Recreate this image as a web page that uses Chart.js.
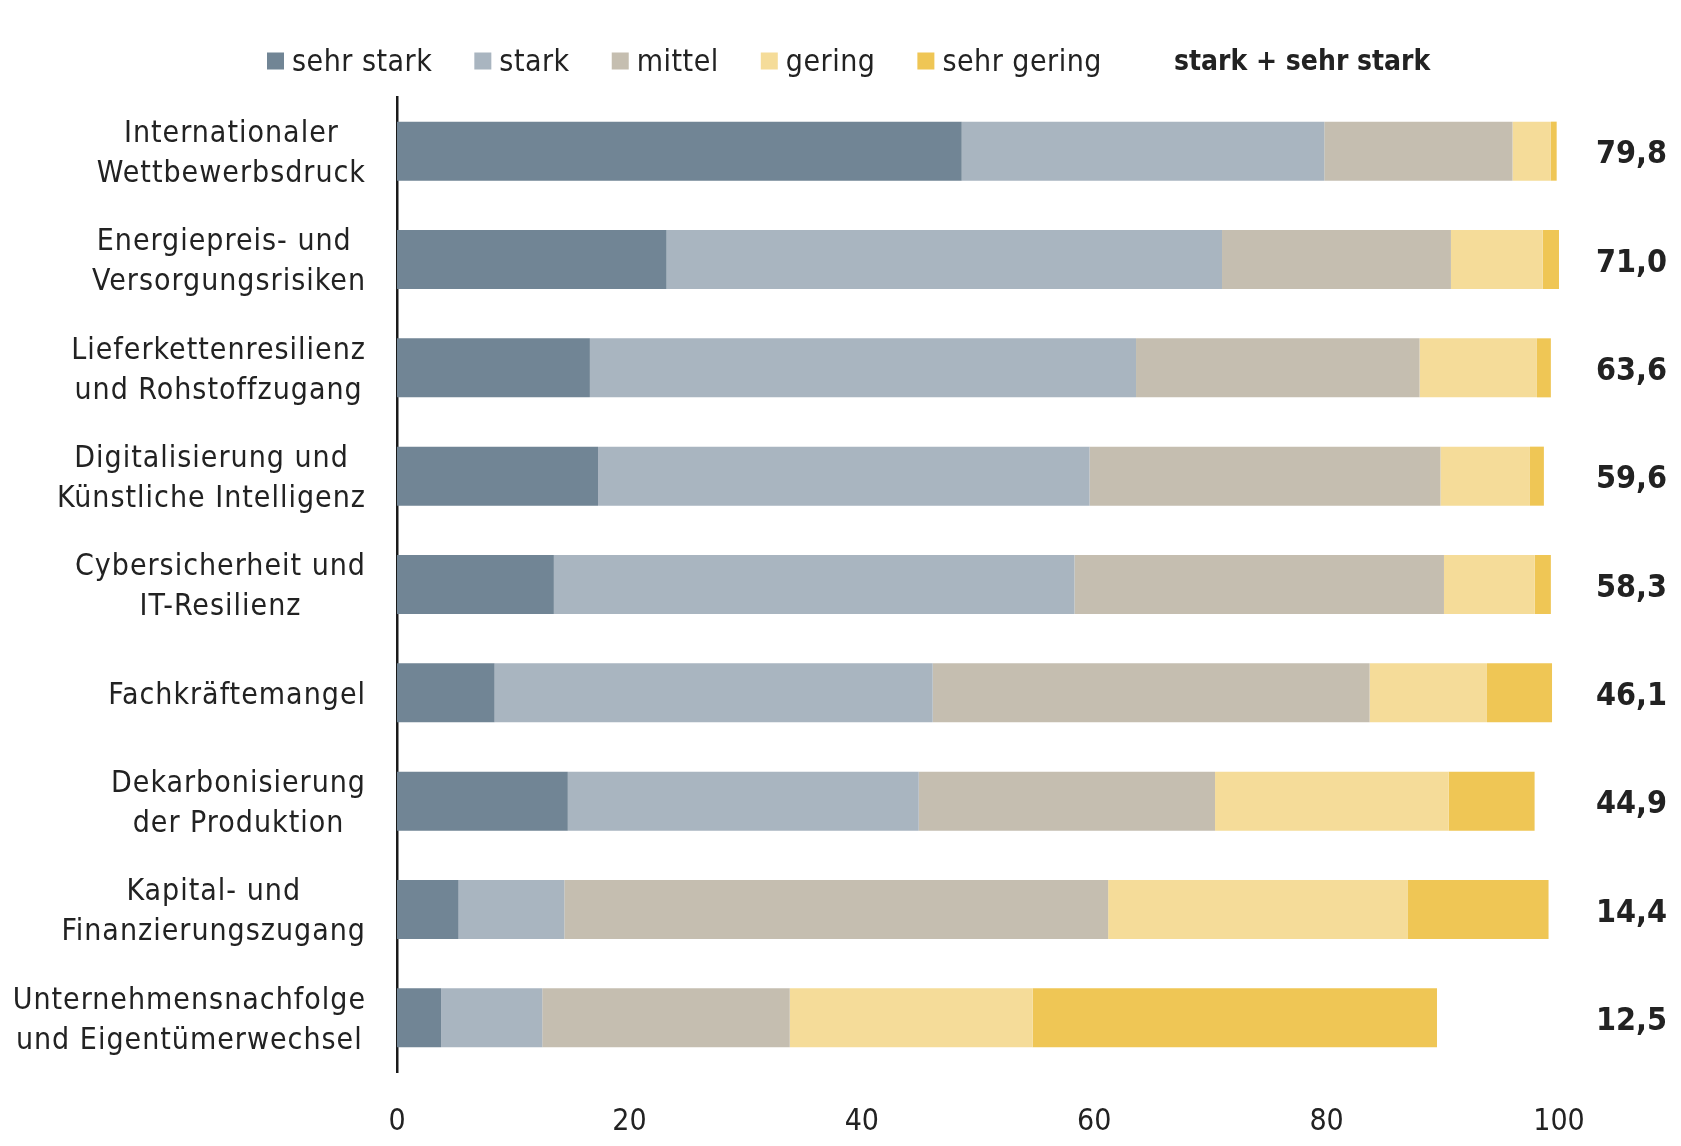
<!DOCTYPE html>
<html>
<head>
<meta charset="utf-8">
<script src="https://cdn.jsdelivr.net/npm/chart.js@4.4.1/dist/chart.umd.min.js"></script>
<style>
  html, body { margin: 0; padding: 0; background: #fff; }
  #wrap { width: 1681px; height: 1146px; }
</style>
</head>
<body>
<div id="wrap"><canvas id="chart"></canvas></div>
<script>
// Herausforderungen – Anteile in %
const categories = [
  ['Internationaler', 'Wettbewerbsdruck'],
  ['Energiepreis- und ', 'Versorgungsrisiken'],
  ['Lieferkettenresilienz', 'und Rohstoffzugang'],
  ['Digitalisierung und', 'Künstliche Intelligenz'],
  ['Cybersicherheit und', 'IT-Resilienz'],
  ['Fachkräftemangel'],
  ['Dekarbonisierung', 'der Produktion'],
  ['Kapital- und', 'Finanzierungszugang'],
  ['Unternehmensnachfolge', 'und Eigentümerwechsel']
];
const sehrStark  = [48.6, 23.2, 16.6, 17.3, 13.5, 8.4, 14.7, 5.3, 3.8];
const stark      = [31.2, 47.8, 47.0, 42.3, 44.8, 37.7, 30.2, 9.1, 8.7];
const mittel     = [16.2, 19.7, 24.4, 30.2, 31.8, 37.6, 25.5, 46.8, 21.3];
const gering     = [3.3, 7.9, 10.1, 7.7, 7.8, 10.1, 20.1, 25.8, 20.9];
const sehrGering = [0.5, 1.4, 1.2, 1.2, 1.4, 5.6, 7.4, 12.1, 34.8];
const starkPlusSehrStark = ['79,8', '71,0', '63,6', '59,6', '58,3', '46,1', '44,9', '14,4', '12,5'];
const xTicks = [0, 20, 40, 60, 80, 100];

const seriesNames = ['sehr stark', 'stark', 'mittel', 'gering', 'sehr gering'];
const seriesColors = ['#718595', '#a9b5c0', '#c5beb0', '#f5dc99', '#efc655'];
const seriesData = [sehrStark, stark, mittel, gering, sehrGering];

const FONT = "'DejaVu Sans Condensed', 'DejaVu Sans', sans-serif";
const TEXT = '#222222';

const labelPlugin = {
  id: 'labels',
  afterDraw(chart) {
    const ctx = chart.ctx;
    const yScale = chart.scales.y;
    ctx.save();

    // category labels, lines centred, block right-aligned
    ctx.font = '30px ' + FONT;
    ctx.letterSpacing = '1px';
    ctx.fillStyle = TEXT;
    ctx.textAlign = 'center';
    ctx.textBaseline = 'middle';
    categories.forEach((lines, i) => {
      const y = yScale.getPixelForValue(i) + 3;
      const maxW = Math.max(...lines.map(l => ctx.measureText(l).width));
      const cx = 366 - maxW / 2;
      lines.forEach((l, k) => {
        ctx.fillText(l, cx, y + (k - (lines.length - 1) / 2) * 40);
      });
    });

    // stark + sehr stark values
    ctx.letterSpacing = '0px';
    ctx.font = 'bold 32px ' + FONT;
    ctx.textAlign = 'right';
    starkPlusSehrStark.forEach((v, i) => {
      ctx.fillText(v, 1667, yScale.getPixelForValue(i) + 4);
    });

    // legend
    let x = 267;
    const ly = 61;
    ctx.font = '30px ' + FONT;
    ctx.letterSpacing = '0.5px';
    ctx.textAlign = 'left';
    seriesNames.forEach((name, i) => {
      ctx.fillStyle = seriesColors[i];
      ctx.fillRect(x, ly - 8.5, 17, 17);
      ctx.fillStyle = TEXT;
      ctx.fillText(name, x + 25, ly + 2);
      x += 25 + ctx.measureText(name).width + 42;
    });
    ctx.letterSpacing = '0px';
    ctx.font = 'bold 28px ' + FONT;
    ctx.fillText('stark + sehr stark', 1174, ly + 2);

    ctx.restore();
  }
};

new Chart(document.getElementById('chart'), {
  type: 'bar',
  data: {
    labels: categories,
    datasets: seriesNames.map((name, i) => ({
      label: name,
      data: seriesData[i],
      backgroundColor: seriesColors[i],
      borderWidth: 0,
      categoryPercentage: 1,
      barPercentage: 0.545
    }))
  },
  options: {
    indexAxis: 'y',
    responsive: true,
    maintainAspectRatio: false,
    animation: false,
    layout: { padding: { top: 97, right: 122, bottom: 0, left: 0 } },
    plugins: {
      legend: { display: false },
      tooltip: { enabled: false }
    },
    scales: {
      x: {
        stacked: true,
        min: 0,
        max: 100,
        afterBuildTicks: s => { s.ticks = xTicks.map(v => ({ value: v })); },
        ticks: {
          color: TEXT,
          padding: 24,
          font: { family: "'Liberation Sans Narrow', " + FONT, size: 30 }
        },
        grid: { display: false },
        border: { display: false },
        afterFit: s => { s.height = 74; }
      },
      y: {
        stacked: true,
        grid: { display: false },
        border: { display: true, color: '#1a1a1a', width: 2.5 },
        ticks: { display: false },
        afterFit: s => { s.width = 397; }
      }
    }
  },
  plugins: [labelPlugin]
});
</script>
</body>
</html>
